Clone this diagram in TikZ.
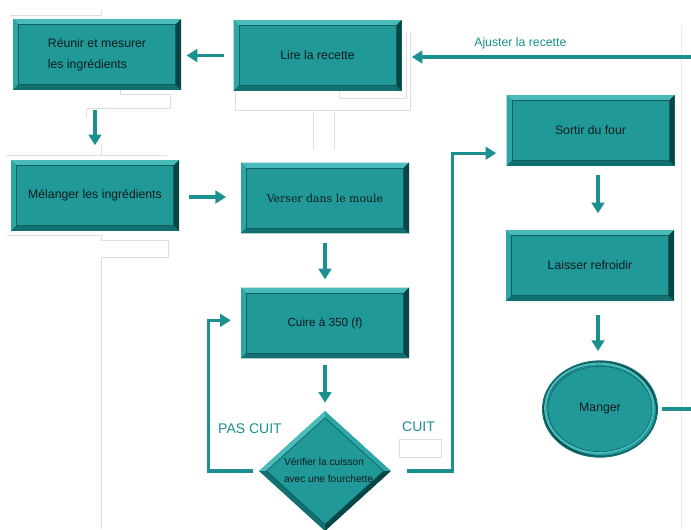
\documentclass[tikz,border=0pt]{standalone}
\usepackage{fontspec}
\setmainfont{Liberation Sans}
\newfontfamily\serifff{DejaVu Serif}
\usetikzlibrary{arrows.meta,shapes.geometric}
\definecolor{tealmid}{HTML}{219999}
\definecolor{tealtop}{HTML}{4ABBBB}
\definecolor{tealleft}{HTML}{2EA6A6}
\definecolor{tealbot}{HTML}{137070}
\definecolor{tealright}{HTML}{0A4545}
\definecolor{tealline}{HTML}{0E5E5E}
\definecolor{arrowteal}{HTML}{1C9090}
\definecolor{txtdark}{HTML}{0A1C1C}
\definecolor{ghost}{HTML}{DEDEDE}
\newcommand\ppb{path picture bounding box}
\def\bevw{4pt}
\tikzset{
  bevelbox/.style={rectangle, inner sep=0pt, minimum width=126pt, minimum height=53pt,
    fill=tealmid, text=txtdark, align=center, font=\fontsize{9.2pt}{11pt}\selectfont,
    path picture={
      \fill[tealtop] (\ppb.north west) -- (\ppb.north east) -- ([shift={(-\bevw,-\bevw)}]\ppb.north east) -- ([shift={(\bevw,-\bevw)}]\ppb.north west) -- cycle;
      \fill[tealleft] (\ppb.north west) -- (\ppb.south west) -- ([shift={(\bevw,\bevw)}]\ppb.south west) -- ([shift={(\bevw,-\bevw)}]\ppb.north west) -- cycle;
      \fill[tealbot] (\ppb.south west) -- (\ppb.south east) -- ([shift={(-\bevw,\bevw)}]\ppb.south east) -- ([shift={(\bevw,\bevw)}]\ppb.south west) -- cycle;
      \fill[tealright] (\ppb.north east) -- (\ppb.south east) -- ([shift={(-\bevw,\bevw)}]\ppb.south east) -- ([shift={(-\bevw,-\bevw)}]\ppb.north east) -- cycle;
      \draw[tealline, line width=0.5pt] ([shift={(\bevw,-\bevw)}]\ppb.north west) rectangle ([shift={(-\bevw,\bevw)}]\ppb.south east);
    }},
  ellbox/.style={ellipse, inner sep=0pt, minimum width=86pt, minimum height=72pt,
    fill=tealmid, draw=tealbot, line width=1pt, text=txtdark, font=\fontsize{9.2pt}{11pt}\selectfont,
    path picture={
      \draw[tealright, line width=2.5pt] ([shift={(0.8pt,-0.8pt)}]\ppb.center) ellipse [x radius=42.5pt, y radius=35.5pt];
      \draw[tealtop, line width=1.6pt] ([shift={(-0.6pt,0.6pt)}]\ppb.center) ellipse [x radius=40.5pt, y radius=33.5pt];
      \draw[tealline, line width=0.4pt] (\ppb.center) ellipse [x radius=39pt, y radius=32pt];
    }},
  diabox/.style={diamond, inner sep=0pt, minimum width=99pt, minimum height=90pt, fill=tealmid,
    path picture={
      \fill[tealtop] (\ppb.west) -- (\ppb.north) -- ([yshift=-5pt]\ppb.north) -- ([xshift=5.5pt]\ppb.west) -- cycle;
      \fill[tealleft] (\ppb.north) -- (\ppb.east) -- ([xshift=-5.5pt]\ppb.east) -- ([yshift=-5pt]\ppb.north) -- cycle;
      \fill[tealright] (\ppb.east) -- (\ppb.south) -- ([yshift=5pt]\ppb.south) -- ([xshift=-5.5pt]\ppb.east) -- cycle;
      \fill[tealbot] (\ppb.south) -- (\ppb.west) -- ([xshift=5.5pt]\ppb.west) -- ([yshift=5pt]\ppb.south) -- cycle;
      \draw[tealline, line width=0.5pt] ([yshift=-5pt]\ppb.north) -- ([xshift=-5.5pt]\ppb.east) -- ([yshift=5pt]\ppb.south) -- ([xshift=5.5pt]\ppb.west) -- cycle;
    }},
  conn/.style={draw=arrowteal, line width=2.3pt, -{Triangle[length=8pt,width=9.5pt]}},
  plainconn/.style={draw=arrowteal, line width=2.3pt},
  lbl/.style={text=arrowteal, inner sep=0pt},
  ghostline/.style={draw=ghost, line width=0.6pt},
}
\begin{document}
\begin{tikzpicture}[x=0.75pt, y=-0.75pt]
\useasboundingbox (0,0) rectangle (691,529);
\clip (0,0) rectangle (691,529);
\fill[white] (0,0) rectangle (691,529);

% faint leftover outlines
\draw[ghostline] (10,15) -- (101,15) -- (101,10);
\draw[ghostline] (120,90) |- (170,94) |- (86,108) -- (86,118);
\draw[ghostline] (339,91) |- (406,98) -- (406,32);
\draw[ghostline] (235,91) |- (410,110) -- (410,32);
\draw[ghostline] (313,110) -- (313,150);
\draw[ghostline] (334,110) -- (334,150);
\draw[ghostline] (6,155) -- (167,155);
\draw[ghostline] (101,145) -- (101,155);
\draw[ghostline] (7,235) -- (101,235) |- (168,240) |- (101,257) -- (101,529);
\draw[ghostline] (399,439) rectangle (441,457);
\draw[draw=ghost!60, line width=0.5pt] (681,25) -- (681,529);

% boxes
\node[bevelbox, align=left, font=\fontsize{9.2pt}{15.75pt}\selectfont] (reunir) at (97,54.5) {Réunir et mesurer\\les ingrédients};
\node[bevelbox] (lire) at (317.5,55.5) {Lire la recette};
\node[bevelbox] (melanger) at (95,195.5) {Mélanger les ingrédients};
\node[bevelbox, font=\serifff\fontsize{8.2pt}{11pt}\selectfont] (verser) at (325,198) {Verser dans le moule};
\node[bevelbox, font=\fontsize{8.8pt}{11pt}\selectfont] (cuire) at (325,323) {Cuire à 350 (f)};
\node[bevelbox] (sortir) at (590.5,130.5) {Sortir du four};
\node[bevelbox] (laisser) at (590,265.5) {Laisser refroidir};
\node[ellbox] (manger) at (600,409) {Manger};
\node[diabox] (verif) at (325,471) {};
\node[text=txtdark, align=left, inner sep=0pt, font=\fontsize{7.6pt}{12.75pt}\selectfont] (veriftxt) at (328.5,470) {Vérifier la cuisson\\avec une fourchette};

% free ends
\coordinate (ajR) at (691,57);
\coordinate (mgR) at (691,409);

% connectors
\draw[conn, shorten <=7pt, shorten >=4pt] (lire.west) -- (lire.west -| reunir.east);
\draw[conn, shorten >=7.5pt] (ajR) -- (ajR -| lire.east)
  node[lbl, pos=0.59, above=5pt, font=\fontsize{9.2pt}{11pt}\selectfont] (ajuster) {Ajuster la recette};
\draw[conn, shorten <=15pt, shorten >=11pt] (reunir.south -| melanger.north) -- (melanger.north);
\draw[conn, shorten <=7.5pt, shorten >=11pt] (melanger.east |- 0,197) -- (verser.west |- 0,197);
\draw[conn, shorten <=7pt, shorten >=6pt] (verser.south) -- (cuire.north);
\draw[conn, shorten <=5pt, shorten >=6pt] (cuire.south) -- (verif.north);
\draw[conn, shorten <=4pt, shorten >=7.5pt] (verif.west) -- ++(-50,0) |- ([yshift=2pt]cuire.west);
\draw[conn, shorten <=12pt, shorten >=7.5pt] (verif.east) -- ++(61,0) |- ([yshift=-17pt]sortir.west);
\draw[conn, shorten <=7pt, shorten >=12.5pt] ([xshift=5.6pt]sortir.south) -- ([xshift=5.6pt]sortir.south |- laisser.north);
\draw[conn, shorten <=10.5pt, shorten >=7pt] ([xshift=6pt]laisser.south) -- ([xshift=6pt]laisser.south |- manger.north);
\draw[plainconn, shorten <=3pt] (manger.east) -- (mgR);

% branch labels
\node[lbl, font=\fontsize{10.5pt}{12pt}\selectfont] (pascuit) at (250,429) {PAS CUIT};
\node[lbl, font=\fontsize{10.5pt}{12pt}\selectfont] (cuit) at (418.5,427) {CUIT};
\end{tikzpicture}
\end{document}
